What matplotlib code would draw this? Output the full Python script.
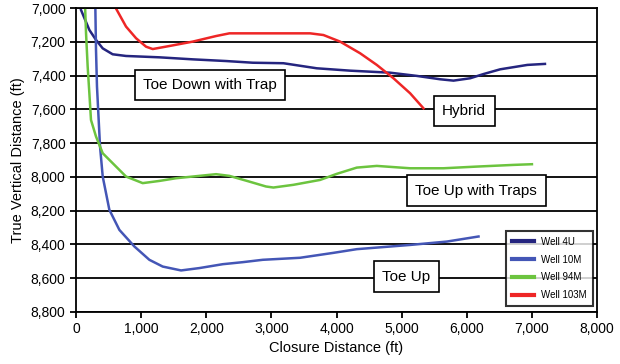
import matplotlib.pyplot as plt

# Well trajectories: closure distance (ft) vs true vertical depth (ft)
well_4u_x = [77, 205, 307, 410, 563, 768, 1280, 1792, 2304, 2714, 3185, 3697, 4209, 4823,
             5232, 5591, 5796, 6052, 6257, 6513, 6930, 7200]
well_4u_y = [7012, 7130, 7189, 7239, 7274, 7284, 7292, 7304, 7314, 7324, 7327, 7357, 7371, 7383,
             7402, 7422, 7430, 7416, 7391, 7363, 7337, 7331]

well_10m_x = [297, 307, 322, 348, 369, 410, 512, 666, 896, 1126, 1331, 1613, 1894, 2253, 2560,
              2867, 3440, 3950, 4311, 5130, 5694, 6180]
well_10m_y = [7000, 7248, 7465, 7663, 7821, 7998, 8195, 8314, 8412, 8491, 8531, 8554, 8540, 8517, 8505,
              8491, 8479, 8450, 8428, 8403, 8383, 8353]

well_94m_x = [140, 154, 179, 205, 230, 307, 410, 563, 768, 1024, 1280, 1536, 1894, 2150, 2355,
              2662, 2918, 3031, 3338, 3748, 4004, 4311, 4618, 5130, 5642, 6154, 6718, 7000]
well_94m_y = [7000, 7150, 7347, 7505, 7663, 7761, 7860, 7919, 7998, 8037, 8024, 8008, 7994, 7984, 7994,
              8028, 8057, 8063, 8047, 8018, 7982, 7945, 7935, 7949, 7949, 7939, 7929, 7925]

well_103m_x = [610, 768, 922, 1075, 1178, 1434, 1792, 2150, 2355, 3072, 3594, 3799, 4055, 4362,
               4618, 4874, 5130, 5335]
well_103m_y = [7000, 7110, 7179, 7229, 7243, 7225, 7199, 7166, 7150, 7150, 7150, 7160, 7199, 7268,
               7337, 7416, 7505, 7594]

labels = ["Toe Down with Trap", "Hybrid", "Toe Up with Traps", "Toe Up"]
label_x = [2060, 5960, 6145, 5070]
label_y = [7456, 7610, 8083, 8592]

plt.rcParams["font.family"] = ["Liberation Sans", "DejaVu Sans"]

fig = plt.figure(figsize=(6.2, 3.64), dpi=100)
ax = fig.add_axes([0.1226, 0.1429, 0.8404, 0.8351])

ax.plot(well_4u_x, well_4u_y, color="#25257f", lw=1.8, label="Well 4U")
ax.plot(well_10m_x, well_10m_y, color="#4456b6", lw=1.8, label="Well 10M")
ax.plot(well_94m_x, well_94m_y, color="#6cc43f", lw=1.8, label="Well 94M")
ax.plot(well_103m_x, well_103m_y, color="#ee2626", lw=1.8, label="Well 103M")

for text, x, y in zip(labels, label_x, label_y):
    ax.text(x, y, text, ha="center", va="center", fontsize=11, zorder=5,
            bbox=dict(boxstyle="square,pad=0.55", fc="white", ec="black", lw=1.2))

ax.set_xlim(0, 8000)
ax.set_ylim(8800, 7000)
ax.set_xticks(range(0, 8001, 1000))
ax.set_yticks(range(7000, 8801, 200))
ax.xaxis.set_major_formatter(lambda v, p: f"{int(v):,}")
ax.yaxis.set_major_formatter(lambda v, p: f"{int(v):,}")
ax.tick_params(labelsize=10, width=1.3, length=4, color="black")
ax.yaxis.grid(True, color="black", lw=1.3)
ax.set_axisbelow(True)
for s in ax.spines.values():
    s.set_linewidth(1.3)

ax.set_xlabel("Closure Distance (ft)", fontsize=10.5, labelpad=3)
ax.set_ylabel("True Vertical Distance (ft)", fontsize=10.5, labelpad=4)

leg = ax.legend(loc="lower right", fontsize=7, frameon=True, fancybox=False,
                edgecolor="black", handlelength=2.2, borderpad=0.6,
                labelspacing=0.8, borderaxespad=0, bbox_to_anchor=(0.992, 0.02))
leg.get_frame().set_linewidth(1.5)
for line in leg.get_lines():
    line.set_linewidth(3)

fig.savefig("out.png", dpi=100)
